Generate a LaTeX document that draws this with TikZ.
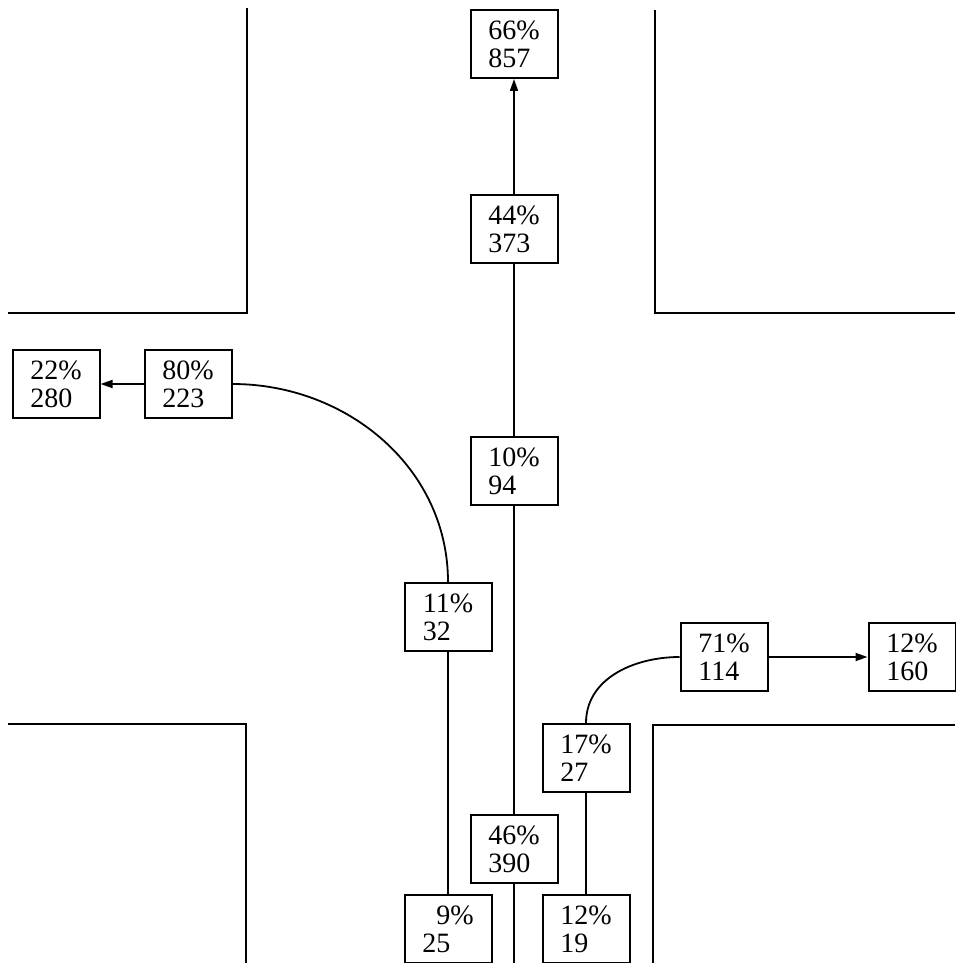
\documentclass[tikz,border=0pt]{standalone}
\usepackage{fontspec}
\setmainfont{Liberation Serif}
\usetikzlibrary{arrows.meta,positioning}
\tikzset{
  >={Triangle[length=12pt,width=8pt]},
  flowbox/.style={rectangle,draw,line width=2pt,
                  minimum width=87pt,minimum height=68pt,inner sep=0pt,
                  align=left,font=\fontsize{28}{28}\selectfont},
  flow/.style={line width=1.8pt},
  kerb/.style={line width=2pt},
}

\begin{document}
\begin{tikzpicture}[x=1pt,y=-1pt,node distance=115pt]
    \useasboundingbox (0,0) rectangle (955,963);

    % street corners
    \draw[kerb] (8,313) -- (247,313) -- (247,8);
    \draw[kerb] (655,10) -- (655,313) -- (955,313);
    \draw[kerb] (8,724) -- (246,724) -- (246,963);
    \draw[kerb] (955,725) -- (653,725) -- (653,963);

    % straight on
    \node[flowbox] (N44) at (514,229) {44\%\\373};
    \node[flowbox,above=of N44]       (N66) {66\%\\857};
    \node[flowbox,below=172pt of N44] (N10) {10\%\\94};
    \node[flowbox,below=308pt of N10] (N46) {46\%\\390};
    \coordinate (S) at (514,963);

    % left turn
    \node[flowbox] (N9) at (448,929) {\hphantom{0}9\%\\25};
    \node[flowbox,above=242pt of N9] (N11) {11\%\\32};
    \node[flowbox] (N80) at (188,384) {80\%\\223};
    \node[flowbox,left=43pt of N80]  (N22) {22\%\\280};

    % right turn
    \node[flowbox] (N12) at (586,929) {12\%\\19};
    \node[flowbox,above=101pt of N12] (N17) {17\%\\27};
    \node[flowbox] (N71) at (724,657) {71\%\\114};
    \node[flowbox,right=99pt of N71]  (N160) {12\%\\160};

    \draw[flow,->] (N44) -- (N66);
    \draw[flow] (N44) -- (N10);
    \draw[flow] (N10) -- (N46);
    \draw[flow] (N46) -- (S);
    \draw[flow] (N9) -- (N11);
    \draw[flow] (N11.north) to[out=90,in=0] (N80.east);
    \draw[flow,->] (N80) -- (N22);
    \draw[flow] (N12) -- (N17);
    \draw[flow] (N17.north) to[out=90,in=180] (N71.west);
    \draw[flow,->] (N71) -- (N160);
  \end{tikzpicture}
\end{document}
